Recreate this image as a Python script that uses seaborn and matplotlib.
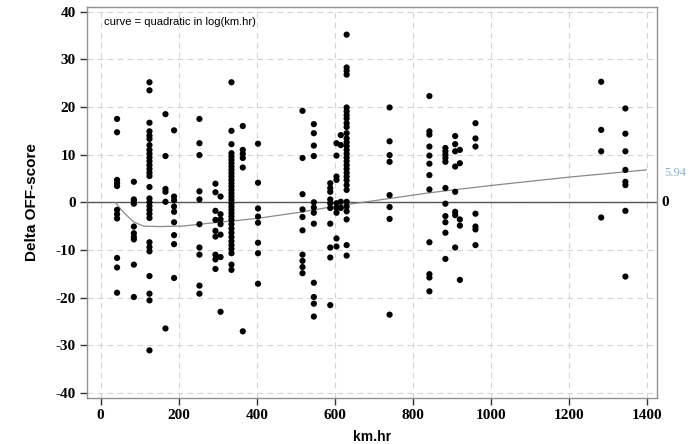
import matplotlib
matplotlib.use("Agg")
import matplotlib.pyplot as plt
import seaborn as sns
import pandas as pd

# ---- data ----
col_km = [42, 85, 125, 166, 188, 253, 294, 307, 335, 364, 403,
          517, 546, 588, 604, 615, 630, 740, 842, 883, 908, 920, 960,
          1282, 1344]
col_delta = [
    [17.5, 14.7, 4.7, 4.0, 3.4, -1.6, -2.5, -3.4, -11.7, -13.7, -19.0],
    [4.3, 0.6, 0.2, -0.3, -5.1, -6.5, -7.3, -7.8, -13.1, -19.9],
    [25.2, 23.5, 16.7, 14.9, 14.0, 13.3, 12.0, 11.0, 10.2, 9.4, 8.6, 7.8, 7.0,
     6.2, 5.5, 3.2, 0.8, 0.0, -0.8, -1.6, -2.4, -3.3, -8.4, -9.4, -10.3,
     -15.5, -19.2, -20.6, -31.1],
    [18.5, 9.7, 2.8, 2.2, 0.1, -26.5],
    [15.1, 1.2, 0.4, -0.9, -2.0, -4.2, -6.9, -8.8, -15.9],
    [17.5, 12.4, 9.9, 2.3, 0.6, -4.6, -9.5, -11.0, -17.5, -19.2],
    [3.9, 2.1, -1.8, -3.7, -6.0, -7.2, -11.0, -12.0, -14.0],
    [1.2, -2.5, -3.6, -4.6, -6.8, -11.5, -23.0],
    [25.2, 15.0, 12.2, 10.3, 9.6, 8.9, 8.2, 7.5, 6.8, 6.1, 5.4, 4.7, 4.0, 3.3,
     2.6, 1.9, 1.2, 0.5, -0.2, -0.9, -1.6, -2.3, -3.0, -3.7, -4.6, -5.5, -6.4,
     -7.3, -8.2, -9.0, -9.8, -10.7, -13.1, -14.2],
    [16.0, 11.0, 10.2, 9.3, 7.3, -27.1],
    [12.3, 4.1, -1.3, -3.0, -4.3, -8.5, -10.7, -17.1],
    [19.2, 9.3, 1.7, -1.5, -3.1, -5.9, -11.0, -12.3, -13.6, -14.9],
    [16.4, 14.5, 11.9, 9.7, 0.0, -1.1, -2.2, -4.5, -16.9, -19.9, -21.3, -24.0],
    [4.0, 3.0, 2.2, 0.6, -0.2, -1.2, -4.5, -9.5, -11.6, -21.6],
    [12.4, 9.8, 5.4, 4.7, -0.2, -1.2, -2.2, -7.6, -9.3],
    [14.1, 12.0, 0.1, -1.2],
    [35.2, 28.3, 27.6, 26.8, 19.9, 19.1, 18.3, 17.6, 16.6, 15.8, 14.5, 13.4,
     12.6, 11.8, 11.0, 10.2, 9.4, 8.6, 7.8, 7.0, 6.2, 5.4, 4.6, 3.6, 2.6, 0.1,
     -0.9, -1.9, -3.6, -9.0, -11.2],
    [19.9, 12.8, 9.9, 8.5, 1.5, -1.0, -3.5, -23.6],
    [22.3, 14.9, 14.2, 11.7, 9.8, 8.1, 5.7, 2.7, -8.4, -15.1, -15.8, -18.7],
    [11.4, 10.7, 10.0, 9.3, 8.5, 3.0, -0.3, -2.9, -4.2, -6.4, -11.9],
    [13.9, 12.2, 10.7, 7.5, 2.2, -2.0, -2.7, -9.5],
    [11.0, 8.2, -3.6, -4.9, -16.3],
    [16.6, 13.4, 11.7, -2.4, -5.1, -5.7, -9.0],
    [25.3, 15.2, 10.7, -3.2],
    [19.7, 14.4, 10.7, 6.8, 4.3, 3.6, -1.8, -15.6],
]

# fitted curve
curve_km = [37, 50, 66, 84, 109, 150, 211, 254, 340, 400, 510, 596, 715,
            843, 997, 1202, 1398]
curve_delta = [0.0, -1.3, -2.7, -4.1, -5.0, -5.1, -5.0, -4.6, -3.9, -3.4,
               -2.1, -0.9, 0.5, 2.0, 3.5, 5.3, 6.8]

x_ticks = [0, 200, 400, 600, 800, 1000, 1200, 1400]
y_ticks = [-40, -30, -20, -10, 0, 10, 20, 30, 40]
end_label = "5.94"
note = "curve = quadratic in log(km.hr)"

rows = [(k, d) for k, ds in zip(col_km, col_delta) for d in ds]
df = pd.DataFrame(rows, columns=["km.hr", "Delta OFF-score"])
curve = pd.DataFrame({"km.hr": curve_km, "fit": curve_delta})

sns.set_theme(style="white")
plt.rcParams["font.family"] = ["Liberation Sans", "DejaVu Sans"]
plt.rcParams["axes.unicode_minus"] = False

fig = plt.figure(figsize=(7, 4.44), dpi=100)
ax = fig.add_axes([0.1243, 0.1047, 0.8143, 0.8795])

ax.set_xlim(-35, 1425)
ax.set_ylim(-41, 41)
ax.set_xticks(x_ticks)
ax.set_yticks(y_ticks)
ax.grid(True, color="#d4d4d4", linestyle=(0, (5, 4)), linewidth=0.8)
ax.set_axisbelow(True)

ax.axhline(0, color="#555555", linewidth=1.0, zorder=2)
sns.lineplot(data=curve, x="km.hr", y="fit", ax=ax, color="#8a8a8a",
             linewidth=0.9, zorder=3)
sns.scatterplot(data=df, x="km.hr", y="Delta OFF-score", ax=ax, color="black",
                s=20, edgecolor="none", zorder=4)

for s in ax.spines.values():
    s.set_color("#909090")
    s.set_linewidth(1.0)

ax.tick_params(axis="both", direction="out", length=5, width=1,
               color="#333333", bottom=True, left=True, pad=3)
for lab in ax.get_xticklabels() + ax.get_yticklabels():
    lab.set_fontfamily("Liberation Serif")
    lab.set_fontweight("bold")
    lab.set_fontsize(11)
    lab.set_color("black")

ax.set_xlabel("km.hr", fontsize=10, fontweight="bold", color="black",
              labelpad=6)
ax.set_ylabel("Delta OFF-score", fontsize=11, fontweight="bold",
              color="black", labelpad=12)

ax.text(0.03, 0.975, note, transform=ax.transAxes, ha="left", va="top",
        fontsize=8, color="black")
ax.text(1.008, 0, "0", transform=ax.get_yaxis_transform(), ha="left",
        va="center", fontsize=11, fontweight="bold",
        fontfamily="Liberation Serif", color="black", clip_on=False)
ax.text(1.012, 6.1, end_label, transform=ax.get_yaxis_transform(),
        ha="left", va="center", fontsize=9, fontfamily="Liberation Serif",
        color="#8fb0d4", clip_on=False)

fig.savefig("out.png", dpi=100)
